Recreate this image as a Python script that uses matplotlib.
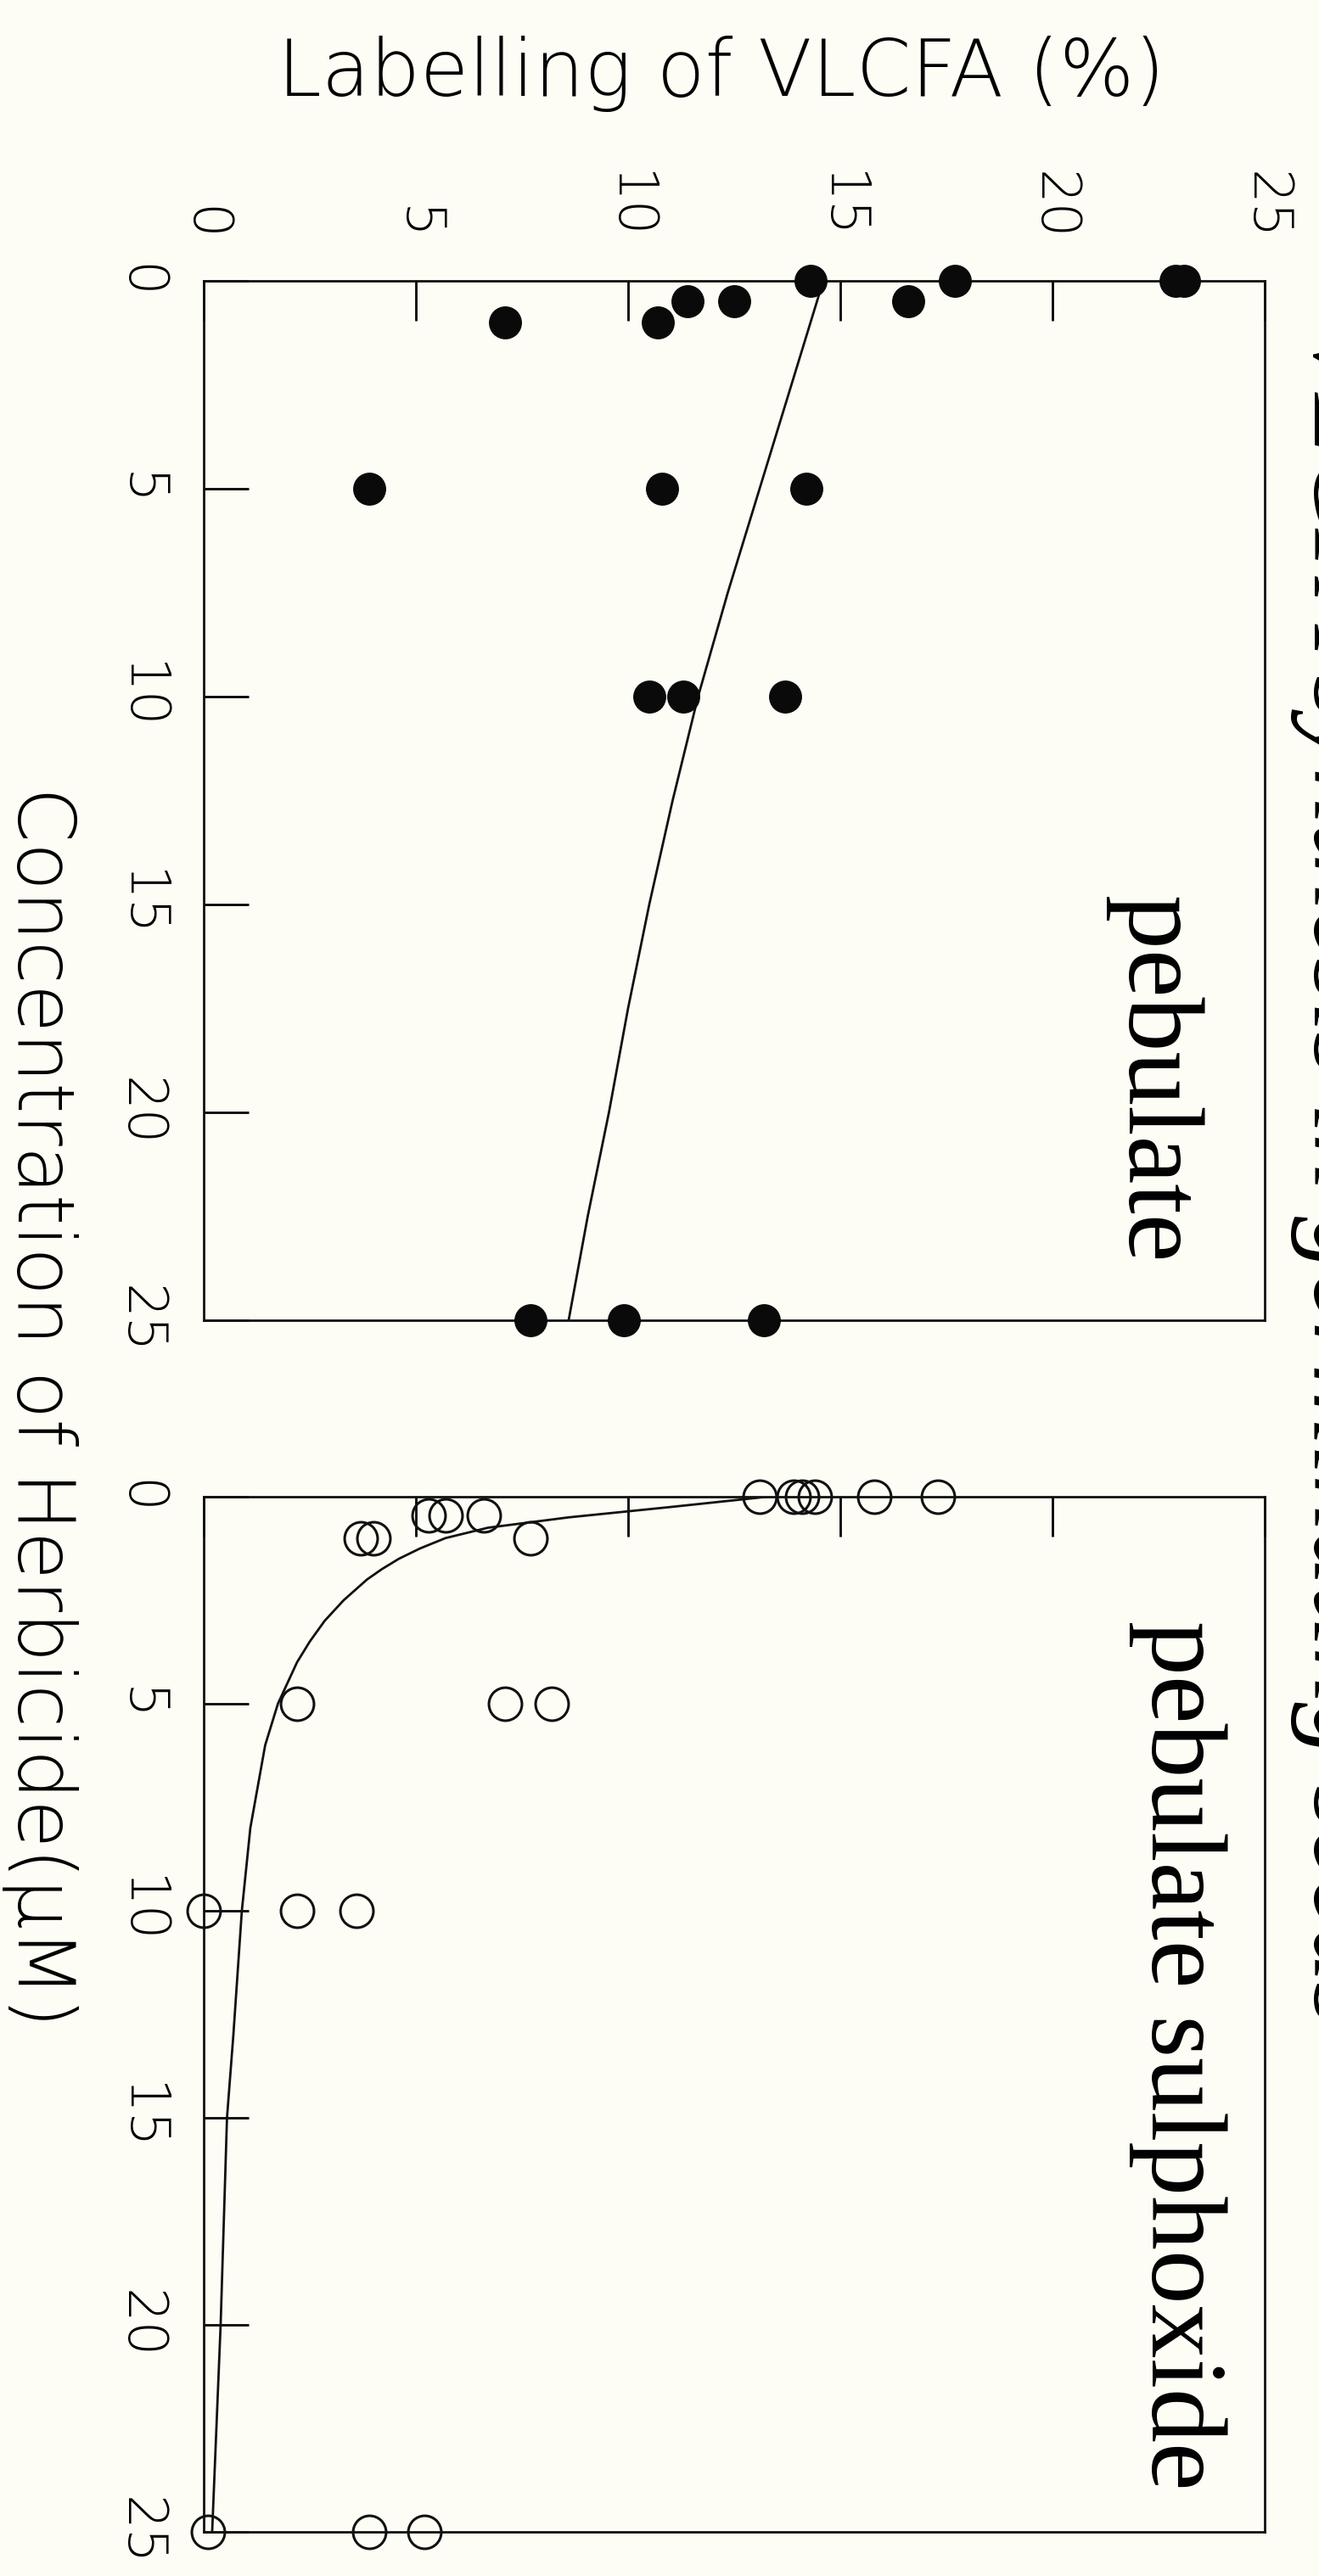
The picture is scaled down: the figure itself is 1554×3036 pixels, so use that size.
import matplotlib
matplotlib.use("Agg")
import matplotlib.pyplot as plt

# pebulate: concentration (uM) and labelling of VLCFA (%)
conc_peb = [0, 0, 0, 0, 0.5, 0.5, 0.5, 1, 1, 5, 5, 5, 10, 10, 10, 25, 25, 25]
lab_peb = [14.3, 17.7, 22.9, 23.1, 11.4, 12.5, 16.6, 7.1, 10.7, 3.9, 10.8, 14.2,
           10.5, 11.3, 13.7, 7.7, 9.9, 13.2]

# pebulate sulphoxide
conc_sulf = [0, 0, 0, 0, 0, 0, 0.45, 0.45, 0.45, 1, 1, 1, 5, 5, 5, 10, 10, 10, 25, 25, 25]
lab_sulf = [13.1, 13.9, 14.1, 14.4, 15.8, 17.3, 5.3, 5.7, 6.6, 3.7, 4.0, 7.7,
            2.2, 7.1, 8.2, 0.0, 2.2, 3.6, 0.1, 3.9, 5.2]

# fitted curves
fit_conc_peb = [0, 2.5, 5, 7.5, 10, 12.5, 15, 17.5, 20, 22.5, 25]
fit_lab_peb = [14.6, 13.85, 13.1, 12.35, 11.65, 11.05, 10.5, 10.0, 9.55, 9.05, 8.6]

fit_conc_sulf = [0, 0.25, 0.5, 0.75, 1, 1.25, 1.5, 1.75, 2, 2.5, 3, 3.5, 4, 5, 6, 8,
                 10, 13, 15, 20, 25]
fit_lab_sulf = [13.3, 11.0, 8.6, 6.7, 5.7, 5.1, 4.6, 4.2, 3.85, 3.3, 2.85, 2.5, 2.2,
                1.75, 1.45, 1.1, 0.9, 0.7, 0.55, 0.4, 0.2]

ticks = [0, 5, 10, 15, 20, 25]
tick_labels = ["0", "5", "10", "15", "20", "25"]

BG = "#fdfdf6"
SANS = ["DejaVu Sans"]
SERIF = ["Liberation Serif", "DejaVu Serif"]

fig = plt.figure(figsize=(15.54, 30.36), dpi=100, facecolor=BG)

ax1 = fig.add_axes([0.1544, 0.4875, 0.8044, 0.4035])
ax2 = fig.add_axes([0.1544, 0.0171, 0.8044, 0.4019])


def style_axis(ax, top_labels):
    ax.set_facecolor(BG)
    ax.set_xlim(0, 25)
    ax.set_ylim(25, 0)
    for sp in ax.spines.values():
        sp.set_linewidth(2.0)
        sp.set_color("#111111")
    ax.set_xticks(ticks)
    ax.set_yticks(ticks)
    ax.xaxis.set_ticks_position("top")
    ax.tick_params(axis="x", direction="in", length=34, width=2.0, pad=34,
                   labeltop=top_labels, labelbottom=False, labelsize=46)
    ax.tick_params(axis="y", direction="in", length=38, width=2.0, pad=32,
                   left=True, right=False, labelsize=46)
    if top_labels:
        ax.set_xticklabels(tick_labels, rotation=-90, family=SANS, fontweight="light")
    ax.set_yticklabels(tick_labels, rotation=-90, va="center", family=SANS,
                       fontweight="light")


style_axis(ax1, True)
style_axis(ax2, False)

ax1.plot(fit_lab_peb, fit_conc_peb, color="#111111", lw=2.0, zorder=2)
ax1.plot(lab_peb, conc_peb, "o", color="#0a0a0a", ms=27, clip_on=False, zorder=3)

ax2.plot(fit_lab_sulf, fit_conc_sulf, color="#111111", lw=2.0, zorder=2)
ax2.plot(lab_sulf, conc_sulf, "o", mfc="none", mec="#111111", mew=2.2, ms=28,
         clip_on=False, zorder=3)

ax1.text(0.895, 0.408, "pebulate", transform=ax1.transAxes, rotation=-90,
         ha="center", va="top", fontsize=92, family=SERIF)
ax2.text(0.918, 0.88, "pebulate sulphoxide", transform=ax2.transAxes, rotation=-90,
         ha="center", va="top", fontsize=92, family=SERIF)

fig.text(0.547, 0.9628, "Labelling of VLCFA (%)", ha="center", va="baseline",
         fontsize=67, family=SANS, fontweight="light")
fig.text(0.001, 0.4539, "Concentration of Herbicide(\u03bcM)", rotation=-90,
         ha="left", va="center", fontsize=67, family=SANS, fontweight="light")

# caption of the page, cut off at the right edge as in the scan
fig.text(1520 / 1554, 1 - 383 / 3036, "VLCFA synthesis in germinating seeds",
         rotation=-90, ha="left", va="top", fontsize=94, family=SERIF, style="italic")

fig.savefig("out.png", dpi=100, facecolor=BG)
